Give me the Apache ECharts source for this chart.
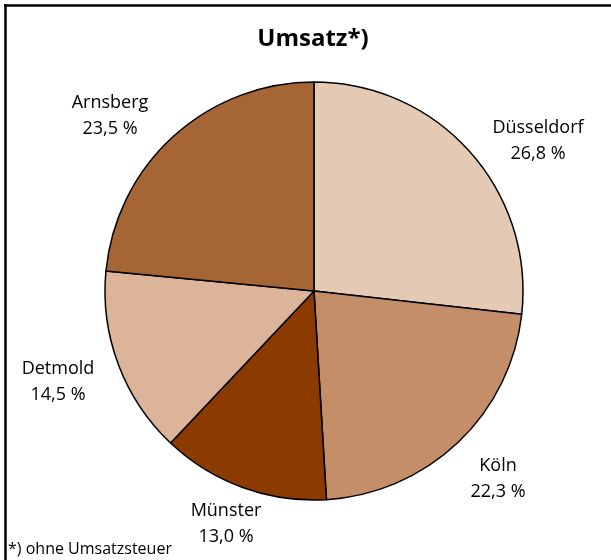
<!DOCTYPE html>
<html>
<head>
<meta charset="utf-8">
<script src="https://cdn.jsdelivr.net/npm/echarts@6/dist/echarts.min.js"></script>
<style>
html,body{margin:0;padding:0;background:#fff;}
#chart{width:611px;height:560px;}
</style>
</head>
<body>
<div id="chart"></div>
<script>
// Data
const categories = ['Düsseldorf', 'Köln', 'Münster', 'Detmold', 'Arnsberg'];
const shares = [26.8, 22.3, 13.0, 14.5, 23.5];
const valueLabels = ['26,8 %', '22,3 %', '13,0 %', '14,5 %', '23,5 %'];

// Styles
const sliceColors = ['#E4CAB4', '#C48E69', '#8B3A00', '#DBB49A', '#A66535'];
const labelAnchors = [[538, 141], [498, 479], [226, 524], [58, 382], [110, 116]];
const FONT = '"Open Sans", "Noto Sans", sans-serif';

const chart = echarts.init(document.getElementById('chart'), null, {renderer: 'canvas'});

chart.setOption({
  backgroundColor: '#ffffff',
  animation: false,
  title: {
    text: 'Umsatz*)',
    left: 308,
    top: 22,
    textAlign: 'center',
    textStyle: {fontFamily: FONT, fontWeight: 'bold', fontSize: 24, color: '#000'}
  },
  graphic: [
    {type: 'line', shape: {x1: 4, y1: 5.5, x2: 611, y2: 5.5}, style: {stroke: '#000', lineWidth: 2.5}},
    {type: 'line', shape: {x1: 5.5, y1: 4, x2: 5.5, y2: 560}, style: {stroke: '#000', lineWidth: 2.5}},
    {type: 'text', left: 8, top: 541, style: {text: '*) ohne Umsatzsteuer', font: '16px ' + FONT, fill: '#000'}}
  ],
  series: [{
    type: 'pie',
    center: [314, 291],
    radius: [0, 209],
    startAngle: 90,
    clockwise: true,
    data: categories.map((c, i) => ({name: c, value: shares[i], itemStyle: {color: sliceColors[i]}})),
    itemStyle: {borderColor: '#000', borderWidth: 1.5},
    emphasis: {disabled: true},
    label: {
      show: true,
      position: 'outside',
      formatter: p => p.name + '\n' + valueLabels[p.dataIndex],
      fontFamily: FONT,
      fontSize: 18,
      lineHeight: 26,
      color: '#000',
      align: 'center',
      overflow: 'none',
      width: 200
    },
    labelLine: {show: false},
    labelLayout: function (params) {
      const a = labelAnchors[params.dataIndex];
      return {x: a[0], y: a[1], align: 'center', verticalAlign: 'middle'};
    }
  }]
});
</script>
</body>
</html>
